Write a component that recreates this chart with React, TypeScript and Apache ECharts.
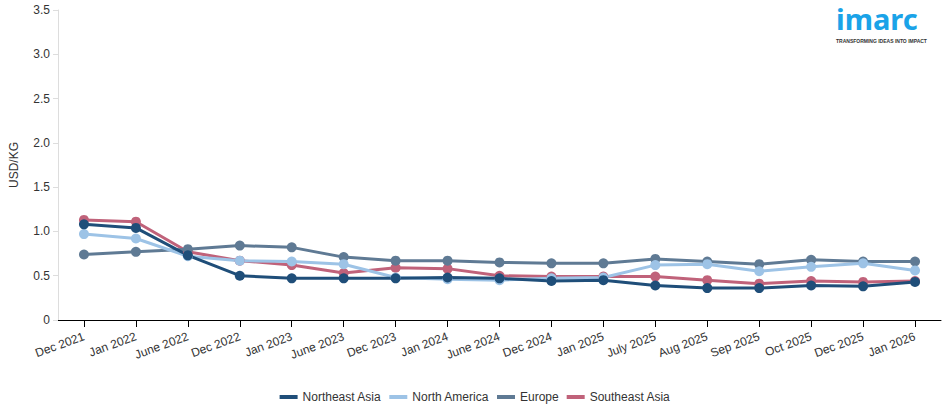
import React, { useEffect, useRef } from "react";
import * as echarts from "echarts";

const categories = [
  "Dec 2021", "Jan 2022", "June 2022", "Dec 2022", "Jan 2023", "June 2023",
  "Dec 2023", "Jan 2024", "June 2024", "Dec 2024", "Jan 2025", "July 2025",
  "Aug 2025", "Sep 2025", "Oct 2025", "Dec 2025", "Jan 2026",
];

const northeastAsia = [1.08, 1.04, 0.73, 0.5, 0.47, 0.47, 0.47, 0.48, 0.47, 0.44, 0.45, 0.39, 0.36, 0.36, 0.39, 0.38, 0.43];
const northAmerica = [0.97, 0.92, 0.72, 0.67, 0.66, 0.63, 0.48, 0.46, 0.45, 0.47, 0.48, 0.62, 0.63, 0.55, 0.6, 0.64, 0.56];
const europe = [0.74, 0.77, 0.8, 0.84, 0.82, 0.71, 0.67, 0.67, 0.65, 0.64, 0.64, 0.69, 0.66, 0.63, 0.68, 0.66, 0.66];
const southeastAsia = [1.13, 1.11, 0.77, 0.67, 0.62, 0.53, 0.59, 0.58, 0.5, 0.49, 0.49, 0.49, 0.45, 0.41, 0.44, 0.43, 0.44];

const seriesNames = ["Northeast Asia", "North America", "Europe", "Southeast Asia"];
const seriesColors = ["#1f4e79", "#9dc3e6", "#5f7a94", "#c0627a"];

const FONT = "'Liberation Sans', Arial, sans-serif";

export default function App() {
  const ref = useRef<HTMLDivElement>(null);

  useEffect(() => {
    if (!ref.current) return;
    const chart = echarts.init(ref.current, undefined, { renderer: "svg" });
    const data = [northeastAsia, northAmerica, europe, southeastAsia];
    const series = seriesNames
      .map((name, i) => ({
        name,
        type: "line",
        data: data[i],
        symbol: "circle",
        symbolSize: 10,
        lineStyle: { width: 3, color: seriesColors[i] },
        itemStyle: { color: seriesColors[i] },
        emphasis: { disabled: true },
      }))
      .reverse();

    chart.setOption({
      animation: false,
      textStyle: { fontFamily: FONT },
      grid: { left: 56, right: 9, top: 10, bottom: 94, containLabel: false },
      legend: {
        data: seriesNames.map((n, i) => ({ name: n, itemStyle: { color: seriesColors[i] } })),
        bottom: 6,
        left: "center",
        icon: "rect",
        itemWidth: 18,
        itemHeight: 4,
        itemGap: 8,
        textStyle: { fontSize: 12, color: "#333", fontFamily: FONT },
      },
      xAxis: {
        type: "category",
        data: categories,
        boundaryGap: true,
        axisLine: { show: true, lineStyle: { color: "#000", width: 1 } },
        axisTick: { show: true, alignWithLabel: true, length: 7, lineStyle: { color: "#000" } },
        axisLabel: { rotate: 20, fontSize: 12, color: "#333", interval: 0, margin: 16, fontFamily: FONT },
      },
      yAxis: {
        type: "value",
        min: 0,
        max: 3.5,
        interval: 0.5,
        name: "USD/KG",
        nameLocation: "middle",
        nameGap: 38,
        nameTextStyle: { fontSize: 12, color: "#333", fontFamily: FONT },
        axisLine: { show: true, lineStyle: { color: "#ddd" } },
        axisTick: { show: true, length: 5, lineStyle: { color: "#ddd" } },
        splitLine: { show: false },
        axisLabel: {
          fontSize: 12,
          color: "#333",
          fontFamily: FONT,
          formatter: (v: number) => (v === 0 ? "0" : v.toFixed(1)),
        },
      },
      graphic: [
        {
          type: "text",
          left: 836,
          top: 4,
          style: {
            text: "imarc",
            fontSize: 29,
            fontWeight: "bold",
            fill: "#1aa3e8",
            fontFamily: "'Noto Sans', Arial, sans-serif",
          },
        },
        {
          type: "text",
          left: 836,
          top: 38,
          style: {
            text: "TRANSFORMING IDEAS INTO IMPACT",
            fontSize: 5,
            fontWeight: "bold",
            fill: "#333",
            fontFamily: FONT,
          },
        },
      ],
      series,
    });
    return () => chart.dispose();
  }, []);

  return <div ref={ref} style={{ width: 950, height: 414, position: "absolute", left: 0, top: 0 }} />;
}
